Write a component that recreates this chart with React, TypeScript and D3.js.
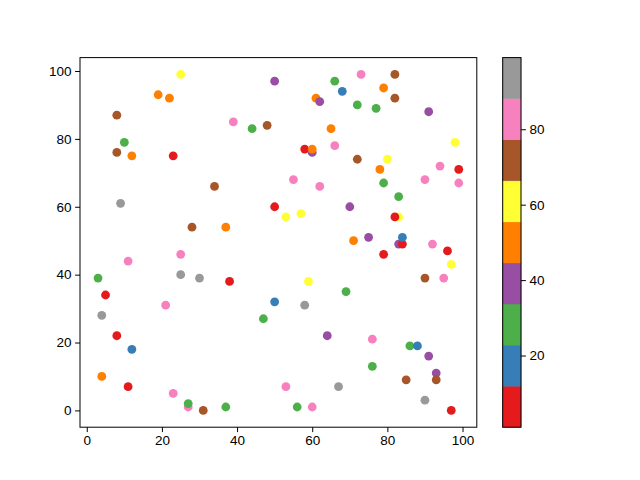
import React, { useEffect, useRef } from 'react';
import * as d3 from 'd3';

// point positions and colour values
const xVals = [25, 19, 22, 8, 10, 8, 12, 23, 34, 9, 28, 50, 66, 68, 61, 62, 39, 44, 48, 65, 60, 58, 60, 66, 55, 62, 50, 53, 57, 37, 70, 73, 82, 79, 82, 72, 77, 91, 98, 72, 80, 78, 94, 99, 79, 90, 99, 83, 83, 82, 71, 75, 83, 84, 84, 92, 96, 79, 97, 90, 95, 69, 76, 86, 88, 91, 76, 93, 85, 93, 67, 90, 97, 38, 59, 50, 58, 47, 64, 53, 37, 56, 60, 25, 11, 25, 30, 3, 5, 21, 4, 8, 12, 4, 11, 23, 27, 27, 31];
const yVals = [99, 93, 92, 87, 79, 76, 75, 75, 66, 61, 54, 97, 97, 94, 92, 91, 85, 83, 84, 83, 76, 77, 77, 78, 68, 66, 60, 57, 58, 54, 60, 99, 99, 95, 92, 90, 89, 88, 79, 74, 74, 71, 72, 71, 67, 68, 67, 63, 57, 57, 50, 51, 49, 49, 51, 49, 47, 46, 43, 39, 39, 35, 21, 19, 19, 16, 13, 11, 9, 9, 7, 3, 0, 38, 38, 32, 31, 27, 22, 7, 1, 1, 1, 46, 44, 40, 39, 39, 34, 31, 28, 22, 18, 10, 7, 5, 1, 2, 0];
const cVals = [61, 50, 50, 72, 28, 72, 50, 6, 72, 99, 72, 39, 28, 17, 50, 39, 83, 28, 72, 50, 39, 6, 50, 83, 83, 83, 6, 61, 61, 50, 39, 83, 72, 50, 72, 28, 28, 39, 61, 72, 61, 50, 83, 6, 28, 83, 83, 28, 61, 6, 50, 39, 39, 6, 17, 83, 6, 6, 61, 72, 83, 28, 83, 28, 17, 39, 28, 39, 72, 72, 94, 94, 1, 6, 61, 17, 94, 28, 39, 83, 28, 28, 83, 83, 83, 94, 94, 28, 6, 83, 94, 6, 17, 50, 6, 83, 83, 28, 72];
const cbTicks = [20, 40, 60, 80];

const set1 = ["#e41a1c", "#377eb8", "#4daf4a", "#984ea3", "#ff7f00", "#ffff33", "#a65628", "#f781bf", "#999999"];

export default function App() {
  const svgRef = useRef<SVGSVGElement>(null);
  const width = 640;
  const height = 480;

  useEffect(() => {
    if (!svgRef.current) return;
    const svg = d3.select(svgRef.current);
    svg.selectAll("*").remove();

    const left = 80, right = 476.8, top = 57.6, bottom = 427.2;
    const font = "'Liberation Sans', Arial, sans-serif";

    const pad = (ext: [number, number]) => {
      const d = (ext[1] - ext[0]) * 0.05;
      return [ext[0] - d, ext[1] + d];
    };
    const x = d3.scaleLinear().domain(pad(d3.extent(xVals) as [number, number])).range([left, right]);
    const y = d3.scaleLinear().domain(pad(d3.extent(yVals) as [number, number])).range([bottom, top]);
    const cExt = d3.extent(cVals) as [number, number];
    const color = d3.scaleQuantize<string>().domain(cExt).range(set1);

    // points
    const pts = xVals.map((v, i) => ({ x: v, y: yVals[i], c: cVals[i] }));
    svg.append("g").selectAll("circle").data(pts).join("circle")
      .attr("cx", d => x(d.x)).attr("cy", d => y(d.y)).attr("r", 4.4)
      .attr("fill", d => color(d.c));

    // frame
    svg.append("rect").attr("x", left).attr("y", top).attr("width", right - left).attr("height", bottom - top)
      .attr("fill", "none").attr("stroke", "#000").attr("stroke-width", 1);

    const xa = svg.append("g").attr("transform", `translate(0,${bottom})`)
      .call(d3.axisBottom(x).ticks(6).tickSize(4.9).tickPadding(3.5).tickSizeOuter(0));
    const ya = svg.append("g").attr("transform", `translate(${left},0)`)
      .call(d3.axisLeft(y).ticks(6).tickSize(4.9).tickPadding(3.5).tickSizeOuter(0));
    [xa, ya].forEach(a => {
      a.select(".domain").remove();
      a.selectAll("text").style("font-family", font).style("font-size", "13.5px").attr("fill", "#000");
      a.selectAll("line").attr("stroke", "#000");
    });

    // colorbar
    const cbL = 502.7, cbR = 521;
    const cy = d3.scaleLinear().domain(cExt).range([bottom, top]);
    const bounds = [cExt[0], ...color.thresholds(), cExt[1]];
    svg.append("g").selectAll("rect").data(set1).join("rect")
      .attr("x", cbL).attr("width", cbR - cbL)
      .attr("y", (_, i) => cy(bounds[i + 1]))
      .attr("height", (_, i) => cy(bounds[i]) - cy(bounds[i + 1]))
      .attr("fill", d => d).attr("stroke", d => d).attr("stroke-width", 0.5);
    svg.append("rect").attr("x", cbL).attr("y", top).attr("width", cbR - cbL).attr("height", bottom - top)
      .attr("fill", "none").attr("stroke", "#000").attr("stroke-width", 1);
    const ca = svg.append("g").attr("transform", `translate(${cbR},0)`)
      .call(d3.axisRight(cy).tickValues(cbTicks).tickSize(4.9).tickPadding(3.5).tickSizeOuter(0));
    ca.select(".domain").remove();
    ca.selectAll("text").style("font-family", font).style("font-size", "13.5px").attr("fill", "#000");
    ca.selectAll("line").attr("stroke", "#000");
  }, []);

  return (
    <svg ref={svgRef} width={width} height={height} viewBox={`0 0 ${width} ${height}`}
      style={{ position: "absolute", left: 0, top: 0, background: "#fff" }} />
  );
}
